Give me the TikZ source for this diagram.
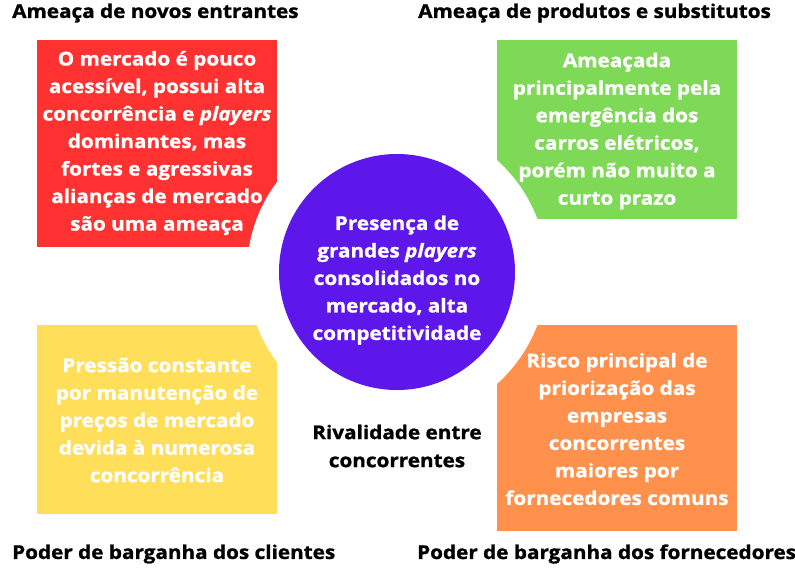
\documentclass[tikz,border=0pt]{standalone}
\usepackage{fontspec}
\setmainfont{Open Sans}[
    BoldFeatures={FakeStretch=1.09, FakeBold=1.2},
    BoldItalicFeatures={FakeStretch=1.09, FakeBold=1.2}]
\definecolor{forcered}{HTML}{FF3131}
\definecolor{forcegreen}{HTML}{7ED957}
\definecolor{forceyellow}{HTML}{FFDE59}
\definecolor{forceorange}{HTML}{FF914D}
\definecolor{forcepurple}{HTML}{5E17EB}
\begin{document}
\begin{tikzpicture}[x=1pt, y=-1pt,
    boxtext/.style={text=white, align=center, inner sep=0pt, font=\bfseries\fontsize{19}{27.5}\selectfont},
    heading/.style={text=black, inner sep=0pt, font=\bfseries\fontsize{19}{28}\selectfont}]
    \useasboundingbox (0,0) rectangle (795,576);
    % the four forces
    \fill[forcered] (37,40) rectangle (277,247);
    \fill[forcegreen] (497,40) rectangle (737,219);
    \fill[forceyellow] (37,325) rectangle (277,514);
    \fill[forceorange] (497,325) rectangle (737,531);
    % white ring and centre
    \fill[white] (397,272) circle (150pt);
    \fill[forcepurple] (397,272) circle (118pt);
    \node[boxtext] (entrantes) at (157,143) {O mercado é pouco\\acessível, possui alta\\concorrência e \textit{players}\\dominantes, mas\\fortes e agressivas\\alianças de mercado\\são uma ameaça};
    \node[boxtext] (substitutos) at (617,131) {Ameaçada\\principalmente pela\\emergência dos\\carros elétricos,\\porém não muito a\\curto prazo};
    \node[boxtext] (clientes) at (157,420) {Pressão constante\\por manutenção de\\preços de mercado\\devida à numerosa\\concorrência};
    \node[boxtext] (fornecedores) at (617,429) {Risco principal de\\priorização das\\empresas\\concorrentes\\maiores por\\fornecedores comuns};
    \node[boxtext] (rivalidade) at (397,280) {Presença de\\grandes \textit{players}\\consolidados no\\mercado, alta\\competitividade};
    % labels
    \node[heading, anchor=west] (novos) at (12,13) {Ameaça de novos entrantes};
    \node[heading, anchor=west] (produtos) at (418,13) {Ameaça de produtos e substitutos};
    \node[heading, anchor=west] (barclientes) at (12,554) {Poder de barganha dos clientes};
    \node[heading, anchor=west] (barfornec) at (417,554) {Poder de barganha dos fornecedores};
    \node[heading, align=center] (concorrentes) at (397,446) {Rivalidade entre\\concorrentes};
\end{tikzpicture}
\end{document}
